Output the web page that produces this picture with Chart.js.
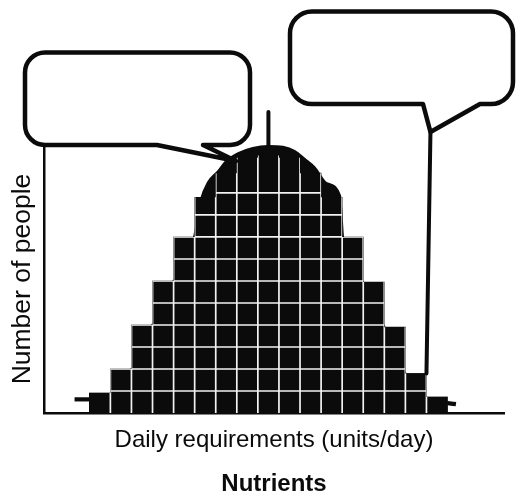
<!DOCTYPE html>
<html>
<head>
<meta charset="utf-8">
<script src="https://cdn.jsdelivr.net/npm/chart.js@4.4.1/dist/chart.umd.min.js"></script>
<style>
  html, body { margin: 0; padding: 0; background: #ffffff; }
  #c { display: block; }
</style>
</head>
<body>
<canvas id="c" width="516" height="498"></canvas>
<script>
// ---- data (y in grid units, x in bin index) ----
const bins   = [1, 2, 3, 4, 5, 6, 7, 8, 9, 10, 11, 12, 13, 14, 15, 16, 17];
const people = [0.91, 2.0, 4.0, 6.0, 8.0, 9.8, 10.9, 11.6, 11.7, 11.6, 10.9, 9.8, 8.0, 5.95, 3.9, 1.8, 0.73];
const curveX = [-0.2, 0.5, 1.5, 2.5, 3.5, 4.5, 5.5, 5.85, 6.17, 6.64, 7.02, 7.59, 8.27, 8.98, 9.68, 10.23, 10.7, 11.15, 11.75, 12.35, 12.5, 13.5, 14.5, 15.5, 16.5, 17.5, 17.9];
const curveY = [0.62, 0.62, 0.8, 1.9, 3.9, 5.9, 7.9, 9.7, 10.45, 10.95, 11.41, 11.77, 12.0, 12.09, 12.05, 11.86, 11.5, 11.14, 10.4, 9.86, 7.9, 5.85, 3.8, 1.7, 0.63, 0.45, 0.4];
const gridUnits = [1, 2, 3, 4, 5, 6, 7, 8, 9, 10];
const meanBin = 9;      // centre marker line
const rdaEdge = 16.5;   // right marker line
const yTitle = 'Number of people';
const xTitle = 'Daily requirements (units/day)';
const chartTitle = 'Nutrients';

const INK = '#0b0b0b';
const FONT = '"Liberation Sans", Arial, Helvetica, sans-serif';
const innerEdges = bins.slice(1).map(b => b - 0.5);
const lastCurve = curveX.length - 1;

Chart.defaults.font.family = FONT;

// white grid drawn only inside the bars
const barGrid = {
  id: 'barGrid',
  afterDatasetDraw(chart, args) {
    if (args.meta.type !== 'bar') return;
    const { ctx, scales: { x, y } } = chart;
    ctx.save();
    ctx.beginPath();
    args.meta.data.forEach(el => {
      const p = el.getProps(['x', 'y', 'base', 'width'], true);
      ctx.rect(p.x - p.width / 2, p.y, p.width, p.base - p.y);
    });
    ctx.clip();
    ctx.strokeStyle = '#f2f2f2';
    ctx.lineWidth = 1.7;
    ctx.beginPath();
    innerEdges.forEach(v => {
      const px = x.getPixelForValue(v);
      ctx.moveTo(px, y.top); ctx.lineTo(px, y.bottom);
    });
    gridUnits.forEach(v => {
      const py = y.getPixelForValue(v);
      ctx.moveTo(x.left, py); ctx.lineTo(x.right, py);
    });
    ctx.stroke();
    ctx.restore();
  }
};

function bubble(ctx, L, T, R, B, r, ta, tb, tip) {
  ctx.beginPath();
  ctx.moveTo(L + r, T);
  ctx.lineTo(R - r, T);
  ctx.arcTo(R, T, R, T + r, r);
  ctx.lineTo(R, B - r);
  ctx.arcTo(R, B, R - r, B, r);
  ctx.lineTo(tb, B);
  ctx.lineTo(tip[0], tip[1]);
  ctx.lineTo(ta, B);
  ctx.lineTo(L + r, B);
  ctx.arcTo(L, B, L, B - r, r);
  ctx.lineTo(L, T + r);
  ctx.arcTo(L, T, L + r, T, r);
  ctx.closePath();
  ctx.stroke();
}

// empty speech-bubble callouts and marker lines
const callouts = {
  id: 'callouts',
  afterDraw(chart) {
    const { ctx, scales: { x, y } } = chart;
    ctx.save();
    ctx.strokeStyle = INK;
    ctx.lineJoin = 'round';
    ctx.lineCap = 'round';
    ctx.lineWidth = 4.5;
    bubble(ctx, 25, 52.5, 250, 145, 20, 157, 203, [236, 161]);
    const rx = x.getPixelForValue(rdaEdge);
    bubble(ctx, 290, 11.5, 513, 104, 22, 423, 480, [rx + 4, 132]);
    ctx.lineWidth = 4;
    ctx.beginPath();
    ctx.moveTo(rx + 4, 132);
    ctx.lineTo(rx, y.getPixelForValue(people[15]));
    ctx.stroke();
    const mx = x.getPixelForValue(meanBin);
    ctx.beginPath();
    ctx.moveTo(mx, 112);
    ctx.lineTo(mx, y.getPixelForValue(11.9));
    ctx.stroke();
    ctx.restore();
  }
};

new Chart(document.getElementById('c'), {
  type: 'bar',
  data: {
    datasets: [
      {
        type: 'line',
        label: 'curve',
        data: curveX.map((v, i) => ({ x: v, y: curveY[i] })),
        borderColor: INK,
        backgroundColor: INK,
        borderWidth: 4.2,
        pointRadius: 0,
        fill: 'origin',
        segment: {
          backgroundColor: c => (c.p0DataIndex === 0 || c.p1DataIndex === lastCurve) ? 'rgba(0,0,0,0)' : INK
        },
        cubicInterpolationMode: 'monotone',
        clip: false,
        order: 2
      },
      {
        type: 'bar',
        label: 'people',
        data: bins.map((v, i) => ({ x: v, y: people[i] })),
        backgroundColor: INK,
        borderWidth: 0,
        barPercentage: 1,
        categoryPercentage: 1,
        order: 1
      }
    ]
  },
  options: {
    responsive: false,
    animation: false,
    devicePixelRatio: 1,
    layout: { padding: { left: 0, right: 12, top: 145, bottom: 1.2 } },
    plugins: {
      legend: { display: false },
      tooltip: { enabled: false },
      title: {
        display: true,
        text: chartTitle,
        position: 'bottom',
        fullSize: false,
        color: INK,
        font: { family: FONT, size: 24, weight: 'bold', lineHeight: 1 },
        padding: { top: 18, bottom: 0 }
      }
    },
    scales: {
      x: {
        type: 'linear',
        min: -1.65,
        max: 20.18,
        offset: false,
        afterBuildTicks: s => { s.ticks = bins.map(b => ({ value: b - 0.5 })).concat([{ value: bins[bins.length - 1] + 0.5 }]); },
        ticks: { display: false },
        grid: { color: 'rgba(0,0,0,0)', drawTicks: false, offset: false },
        border: { color: INK, width: 2.5 },
        title: {
          display: true, text: xTitle, color: INK,
          font: { family: FONT, size: 24, lineHeight: 1.2 },
          padding: { top: 13, bottom: 0 }
        }
      },
      y: {
        type: 'linear',
        min: 0,
        max: 12.18,
        afterBuildTicks: s => { s.ticks = gridUnits.map(v => ({ value: v })); },
        ticks: { display: false },
        grid: { color: 'rgba(0,0,0,0)', drawTicks: false },
        border: { color: INK, width: 2.5 },
        title: {
          display: true, text: yTitle, color: INK,
          font: { family: FONT, size: 26.5, lineHeight: 1.2 },
          padding: { top: 6.9, bottom: 5.3 }
        }
      }
    }
  },
  plugins: [barGrid, callouts]
});
</script>
</body>
</html>
